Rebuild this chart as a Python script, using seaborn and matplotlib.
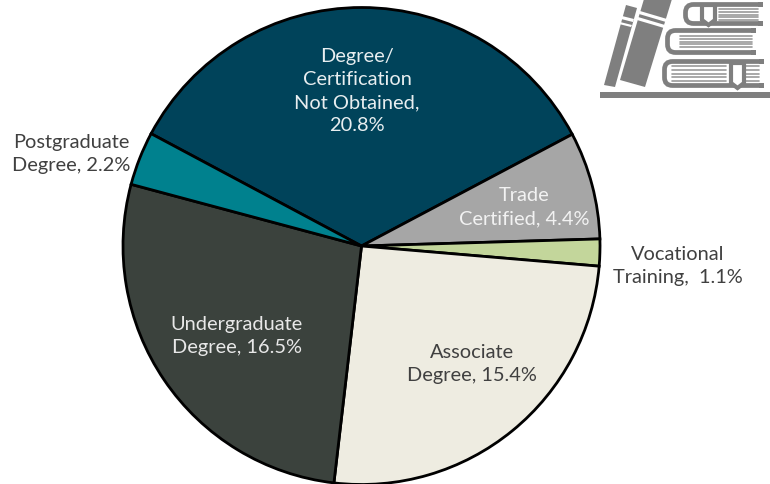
import matplotlib
matplotlib.use("Agg")
import matplotlib.pyplot as plt
import seaborn as sns
from matplotlib.patches import FancyBboxPatch, Polygon, Rectangle

# Slices, clockwise from the top left
categories = ["Degree/\nCertification\nNot Obtained,\n", "Trade\nCertified, ", "Vocational\nTraining,  ",
              "Associate\nDegree, ", "Undergraduate\nDegree, ", "Postgraduate\nDegree, "]
shares = [20.8, 4.4, 1.1, 15.4, 16.5, 2.2]
slice_colors = ["#00435a", "#a6a6a6", "#c3d69b", "#eeece1", "#3b423d", "#00818e"]
text_colors = ["#e8eef0", "#f2f2f2", "#404040", "#404040", "#e8e8e8", "#404040"]
label_centers = [(357, 91), (524, 207), (678, 266), (472, 364), (237, 336), (71, 154)]

sns.set_theme(style="white")
plt.rcParams["font.family"] = ["Lato", "DejaVu Sans"]

W, H = 770, 485
fig = plt.figure(figsize=(W / 100, H / 100), dpi=100)
ax = fig.add_axes([0, 0, 1, 1])

# Pie in pixel coordinates
wedges, _ = ax.pie(shares, colors=sns.color_palette(slice_colors), startangle=151.9,
                   counterclock=False, center=(361.5, H - 247), radius=238.5,
                   wedgeprops={"edgecolor": "black", "linewidth": 2})
ax.set_xlim(0, W)
ax.set_ylim(0, H)
ax.set_aspect("equal")
ax.axis("off")

for cat, val, col, (x, y) in zip(categories, shares, text_colors, label_centers):
    ax.text(x, H - y, f"{cat}{val}%", color=col, fontsize=14.4,
            ha="center", va="center", linespacing=1.44)


# Book icon, drawn in pixel coordinates
GREY = "#7f7f7f"


def px(pts):
    return [(x, H - y - 1) for x, y in pts]


def book(x0, y0, x1, y1):
    y0, y1 = y0 + 1, y1 + 1
    ax.add_patch(FancyBboxPatch((x0 + 2.5, H - y1 + 2.5), x1 - x0 + 5, y1 - y0 - 5,
                                boxstyle="round,pad=0,rounding_size=8", fc="white",
                                ec=GREY, lw=3.4, zorder=5))
    # the pages side is open: cut the outline off at x1
    ax.add_patch(Rectangle((x1, H - y1 - 1), 12, y1 - y0 + 2, fc="white", ec="none", zorder=5.5))
    ax.add_patch(Rectangle((x1 - 5, H - y0 - 5), 5, 5, fc=GREY, ec="none", zorder=5.5))
    ax.add_patch(Rectangle((x1 - 5, H - y1), 5, 5, fc=GREY, ec="none", zorder=5.5))


def pages(x0, x1, y0, y1, n=5):
    for i in range(n):
        y = y0 + 1 + (y1 - y0) * i / (n - 1)
        ax.plot([x0, x1], [H - y, H - y], color="#9a9a9a", lw=1.2, zorder=6)


ax.add_patch(Rectangle((600, H - 99), 170, 6, fc=GREY, ec="none", zorder=5))
# leaning books
ax.add_patch(Polygon(px([(626, 5), (637, 8), (615, 87), (604, 85)]), fc=GREY, ec="none", zorder=5))
ax.add_patch(Polygon(px([(644, -1), (672, -1), (645, 87), (620, 80)]), fc=GREY, ec="none", zorder=5))
for pts in ([(622, 16), (634, 19), (633, 22), (621, 19)], [(620, 22), (632, 25), (631, 27), (619, 24)],
            [(640, 11), (667, 19), (666, 22), (639, 14)], [(638, 17), (665, 25), (664, 28), (637, 20)]):
    ax.add_patch(Polygon(px(pts), fc="white", ec="none", zorder=6))
# stacked books
book(683, 2, 763, 26)
book(665, 28, 756, 55)
book(662, 59, 764, 88)
pages(719, 758, 9, 20)
pages(680, 752, 36, 47)
pages(672, 726, 66, 81)
pages(745, 759, 66, 81)
# bookmarks
ax.add_patch(Polygon(px([(702, 5), (715, 5), (715, 20), (708.5, 25), (702, 20)]), fc="white", ec=GREY, lw=3, zorder=7))
ax.add_patch(Polygon(px([(731, 63), (744, 63), (744, 83), (737.5, 88), (731, 83)]), fc="white", ec=GREY, lw=3, zorder=7))

fig.savefig("out.png", dpi=100)
